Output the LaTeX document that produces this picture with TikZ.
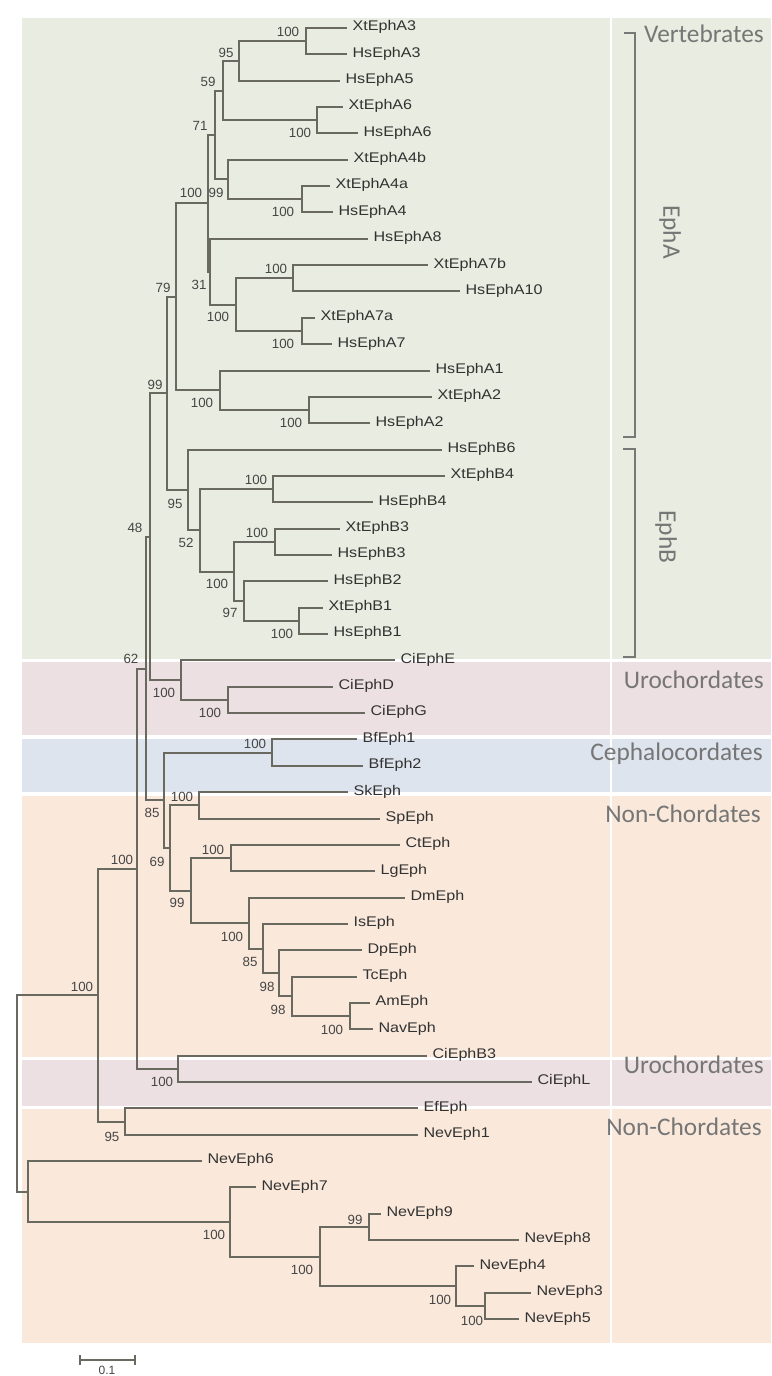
\documentclass[tikz,border=0pt]{standalone}
\usepackage{fontspec}
\newfontfamily\leaffont[FakeStretch=1.15]{Liberation Sans}
\newfontfamily\bsfont{Liberation Sans}
\newfontfamily\grpfont{Carlito}
\definecolor{greenC}{RGB}{233,236,224}
\definecolor{pinkC}{RGB}{237,224,226}
\definecolor{blueC}{RGB}{222,228,237}
\definecolor{peachC}{RGB}{250,233,219}
\definecolor{treeC}{RGB}{105,105,95}
\definecolor{leafC}{RGB}{50,50,50}
\definecolor{bsC}{RGB}{70,70,70}
\definecolor{grpC}{RGB}{118,118,118}
\definecolor{brkC}{RGB}{120,120,120}
\begin{document}
\begin{tikzpicture}[x=0.75pt,y=-0.75pt,
  br/.style={draw=treeC, line width=1.5pt},
  leaf/.style={font=\leaffont\fontsize{10.5}{12}\selectfont, text=leafC, anchor=mid west, inner xsep=4pt, inner ysep=1pt},
  bs/.style={font=\bsfont\fontsize{10}{12}\selectfont, text=bsC, inner sep=0pt},
  grp/.style={font=\grpfont\fontsize{19}{22}\selectfont, text=grpC, inner sep=0pt},
  brk/.style={draw=brkC, line width=1.3pt}]
\useasboundingbox (0,0) rectangle (771,1376);
% background bands
\fill[greenC] (22,18) rectangle (771,659);
\fill[pinkC] (22,662) rectangle (771,735);
\fill[blueC] (22,739) rectangle (771,792);
\fill[peachC] (22,796) rectangle (771,1057);
\fill[pinkC] (22,1060) rectangle (771,1106);
\fill[peachC] (22,1109) rectangle (771,1343);
\draw[white, line width=1pt] (611,18) -- (611,1343);
% leaves
\node[leaf] (XtEphA3) at (347,28.0) {XtEphA3};
\node[leaf] (HsEphA3) at (347,54.35) {HsEphA3};
\node[leaf] (HsEphA5) at (340,80.7) {HsEphA5};
\node[leaf] (XtEphA6) at (343,107.05) {XtEphA6};
\node[leaf] (HsEphA6) at (358,133.4) {HsEphA6};
\node[leaf] (XtEphA4b) at (348,159.75) {XtEphA4b};
\node[leaf] (XtEphA4a) at (330,186.1) {XtEphA4a};
\node[leaf] (HsEphA4) at (333,212.45) {HsEphA4};
\node[leaf] (HsEphA8) at (368,238.8) {HsEphA8};
\node[leaf] (XtEphA7b) at (428,265.15) {XtEphA7b};
\node[leaf] (HsEphA10) at (460,291.5) {HsEphA10};
\node[leaf] (XtEphA7a) at (315,317.85) {XtEphA7a};
\node[leaf] (HsEphA7) at (332,344.2) {HsEphA7};
\node[leaf] (HsEphA1) at (430,370.55) {HsEphA1};
\node[leaf] (XtEphA2) at (432,396.9) {XtEphA2};
\node[leaf] (HsEphA2) at (370,423.25) {HsEphA2};
\node[leaf] (HsEphB6) at (442,449.6) {HsEphB6};
\node[leaf] (XtEphB4) at (445,475.95) {XtEphB4};
\node[leaf] (HsEphB4) at (373,502.3) {HsEphB4};
\node[leaf] (XtEphB3) at (340,528.65) {XtEphB3};
\node[leaf] (HsEphB3) at (332,555.0) {HsEphB3};
\node[leaf] (HsEphB2) at (328,581.35) {HsEphB2};
\node[leaf] (XtEphB1) at (323,607.7) {XtEphB1};
\node[leaf] (HsEphB1) at (328,634.05) {HsEphB1};
\node[leaf] (CiEphE) at (395,660.4) {CiEphE};
\node[leaf] (CiEphD) at (333,686.75) {CiEphD};
\node[leaf] (CiEphG) at (365,713.1) {CiEphG};
\node[leaf] (BfEph1) at (357,739.45) {BfEph1};
\node[leaf] (BfEph2) at (363,765.8) {BfEph2};
\node[leaf] (SkEph) at (348,792.15) {SkEph};
\node[leaf] (SpEph) at (380,818.5) {SpEph};
\node[leaf] (CtEph) at (400,844.85) {CtEph};
\node[leaf] (LgEph) at (375,871.2) {LgEph};
\node[leaf] (DmEph) at (405,897.55) {DmEph};
\node[leaf] (IsEph) at (348,923.9) {IsEph};
\node[leaf] (DpEph) at (362,950.25) {DpEph};
\node[leaf] (TcEph) at (357,976.6) {TcEph};
\node[leaf] (AmEph) at (370,1002.95) {AmEph};
\node[leaf] (NavEph) at (373,1029.3) {NavEph};
\node[leaf] (CiEphB3) at (427,1055.65) {CiEphB3};
\node[leaf] (CiEphL) at (532,1082.0) {CiEphL};
\node[leaf] (EfEph) at (418,1108.35) {EfEph};
\node[leaf] (NevEph1) at (418,1134.7) {NevEph1};
\node[leaf] (NevEph6) at (202,1161.05) {NevEph6};
\node[leaf] (NevEph7) at (256,1187.4) {NevEph7};
\node[leaf] (NevEph9) at (381,1213.75) {NevEph9};
\node[leaf] (NevEph8) at (519,1240.1) {NevEph8};
\node[leaf] (NevEph4) at (474,1266.45) {NevEph4};
\node[leaf] (NevEph3) at (531,1292.8) {NevEph3};
\node[leaf] (NevEph5) at (519,1319.15) {NevEph5};
% internal nodes
\coordinate (nA3) at (306,41.2);
\coordinate (nA35) at (239,60.9);
\coordinate (nA6) at (317,120.2);
\coordinate (n59) at (223,90.6);
\coordinate (nA4) at (302,199.3);
\coordinate (n99a) at (228,179.5);
\coordinate (n71) at (215,135.0);
\coordinate (nA7b) at (293,278.3);
\coordinate (nA7a) at (302,331.0);
\coordinate (nA7) at (236,304.7);
\coordinate (n31) at (210,271.7);
\coordinate (n100b) at (208,203.4);
\coordinate (nA2) at (309,410.1);
\coordinate (nA1) at (220,390.3);
\coordinate (n79) at (176,296.9);
\coordinate (nB4) at (273,489.1);
\coordinate (nB3) at (275,541.8);
\coordinate (nB1) at (299,620.9);
\coordinate (n97) at (244,601.1);
\coordinate (nB32) at (234,571.5);
\coordinate (n52) at (200,530.3);
\coordinate (n95b) at (188,490.0);
\coordinate (n99c) at (167,393.4);
\coordinate (nCiDG) at (228,699.9);
\coordinate (nCi) at (181,680.2);
\coordinate (n48) at (150,536.8);
\coordinate (nBf) at (272,752.6);
\coordinate (nSk) at (199,805.3);
\coordinate (nCt) at (231,858.0);
\coordinate (nAm) at (350,1016.1);
\coordinate (n98b) at (292,996.4);
\coordinate (n98a) at (279,973.3);
\coordinate (n85b) at (263,948.6);
\coordinate (n100d) at (249,923.1);
\coordinate (n99d) at (191,890.6);
\coordinate (n69) at (170,848.0);
\coordinate (n85a) at (164,800.3);
\coordinate (n62) at (146,668.6);
\coordinate (nCiL) at (178,1068.8);
\coordinate (n137) at (137,868.7);
\coordinate (nEf) at (125,1121.5);
\coordinate (n98) at (98,995.1);
\coordinate (nN35) at (485,1306.0);
\coordinate (nN4) at (456,1286.2);
\coordinate (nN98) at (369,1226.9);
\coordinate (nN320) at (320,1256.6);
\coordinate (nN7) at (230,1222.0);
\coordinate (nN6) at (28,1191.5);
\coordinate (root) at (17,1093.3);
% edges to leaves
\foreach \p/\c in {nA3/XtEphA3, nA3/HsEphA3, nA35/HsEphA5, nA6/XtEphA6, nA6/HsEphA6,
  nA4/XtEphA4a, nA4/HsEphA4, n99a/XtEphA4b, nA7b/XtEphA7b, nA7b/HsEphA10,
  nA7a/XtEphA7a, nA7a/HsEphA7, n31/HsEphA8, nA2/XtEphA2, nA2/HsEphA2, nA1/HsEphA1,
  nB4/XtEphB4, nB4/HsEphB4, nB3/XtEphB3, nB3/HsEphB3, nB1/XtEphB1, nB1/HsEphB1,
  n97/HsEphB2, n95b/HsEphB6, nCiDG/CiEphD, nCiDG/CiEphG, nCi/CiEphE,
  nBf/BfEph1, nBf/BfEph2, nSk/SkEph, nSk/SpEph, nCt/CtEph, nCt/LgEph,
  nAm/AmEph, nAm/NavEph, n98b/TcEph, n98a/DpEph, n85b/IsEph, n100d/DmEph,
  nCiL/CiEphB3, nCiL/CiEphL, nEf/EfEph, nEf/NevEph1,
  nN35/NevEph3, nN35/NevEph5, nN4/NevEph4, nN98/NevEph9, nN98/NevEph8,
  nN7/NevEph7, nN6/NevEph6}
  \draw[br] (\p) |- (\c.mid west);
% edges between internal nodes
\foreach \p/\c in {nA35/nA3, n59/nA35, n59/nA6, n99a/nA4, n71/n59, n71/n99a,
  nA7/nA7b, nA7/nA7a, n31/nA7, n100b/n71, n100b/n31, nA1/nA2, n79/n100b, n79/nA1,
  n97/nB1, nB32/nB3, nB32/n97, n52/nB4, n52/nB32, n95b/n52, n99c/n79, n99c/n95b,
  nCi/nCiDG, n48/n99c, n48/nCi, n98b/nAm, n98a/n98b, n85b/n98a, n100d/n85b,
  n99d/nCt, n99d/n100d, n69/nSk, n69/n99d, n85a/nBf, n85a/n69, n62/n48, n62/n85a,
  n137/n62, n137/nCiL, n98/n137, n98/nEf, nN4/nN35, nN320/nN98, nN320/nN4,
  nN7/nN320, nN6/nN7, root/n98, root/nN6}
  \draw[br] (\p) |- (\c);
% bootstrap values
\node[bs] (b1) at (288,32) {100};
\node[bs] (b2) at (226,53) {95};
\node[bs] (b3) at (208,82) {59};
\node[bs] (b4) at (300,133) {100};
\node[bs] (b5) at (200,126) {71};
\node[bs] (b6) at (216,193) {99};
\node[bs] (b7) at (191,193) {100};
\node[bs] (b8) at (283,212) {100};
\node[bs] (b9) at (199,285) {31};
\node[bs] (b10) at (276,269) {100};
\node[bs] (b11) at (218,317) {100};
\node[bs] (b12) at (283,344) {100};
\node[bs] (b13) at (163,288) {79};
\node[bs] (b14) at (155,385) {99};
\node[bs] (b15) at (202,403) {100};
\node[bs] (b16) at (291,423) {100};
\node[bs] (b17) at (175,504) {95};
\node[bs] (b18) at (256,480) {100};
\node[bs] (b19) at (135,528) {48};
\node[bs] (b20) at (186,543) {52};
\node[bs] (b21) at (257,533) {100};
\node[bs] (b22) at (217,584) {100};
\node[bs] (b23) at (230,613) {97};
\node[bs] (b24) at (282,634) {100};
\node[bs] (b25) at (131,659) {62};
\node[bs] (b26) at (164,693) {100};
\node[bs] (b27) at (210,713) {100};
\node[bs] (b28) at (255,744) {100};
\node[bs] (b29) at (182,797) {100};
\node[bs] (b30) at (152,813) {85};
\node[bs] (b31) at (213,850) {100};
\node[bs] (b32) at (157,862) {69};
\node[bs] (b33) at (122,860) {100};
\node[bs] (b34) at (177,903) {99};
\node[bs] (b35) at (232,937) {100};
\node[bs] (b36) at (250,962) {85};
\node[bs] (b37) at (267,987) {98};
\node[bs] (b38) at (278,1010) {98};
\node[bs] (b39) at (332,1030) {100};
\node[bs] (b40) at (82,987) {100};
\node[bs] (b41) at (162,1082) {100};
\node[bs] (b42) at (112,1137) {95};
\node[bs] (b43) at (355,1220) {99};
\node[bs] (b44) at (214,1235) {100};
\node[bs] (b45) at (302,1270) {100};
\node[bs] (b46) at (440,1300) {100};
\node[bs] (b47) at (472,1321) {100};
% brackets
\coordinate (bA1) at (624,33); \coordinate (bA2) at (635,33);
\coordinate (bA3) at (635,437); \coordinate (bA4) at (623,437);
\draw[brk] (bA1) -- (bA2) -- (bA3) -- (bA4);
\coordinate (bB1) at (623,449); \coordinate (bB2) at (635,449);
\coordinate (bB3) at (635,657); \coordinate (bB4) at (623,657);
\draw[brk] (bB1) -- (bB2) -- (bB3) -- (bB4);
% group labels
\node[grp, anchor=base east] (gVert) at (764,43) {Vertebrates};
\node[grp, rotate=-90] (gEphA) at (670,232) {EphA};
\node[grp, rotate=-90] (gEphB) at (666,537) {EphB};
\node[grp, anchor=base east] (gUro1) at (764,688) {Urochordates};
\node[grp, anchor=base east] (gCeph) at (763,760) {Cephalocordates};
\node[grp, anchor=base east] (gNon1) at (761,822) {Non-Chordates};
\node[grp, anchor=base east] (gUro2) at (764,1073) {Urochordates};
\node[grp, anchor=base east] (gNon2) at (762,1135) {Non-Chordates};
% scale bar
\coordinate (sbL) at (80,1360); \coordinate (sbR) at (135,1360);
\draw[br, line width=1.2pt] (sbL) -- (sbR);
\draw[br, line width=1.2pt] ([yshift=4pt]sbL) -- ([yshift=-4pt]sbL);
\draw[br, line width=1.2pt] ([yshift=4pt]sbR) -- ([yshift=-4pt]sbR);
\node[bs, font=\bsfont\fontsize{9}{10}\selectfont, anchor=north] (sbT) at (107,1366) {0.1};
\end{tikzpicture}
\end{document}
